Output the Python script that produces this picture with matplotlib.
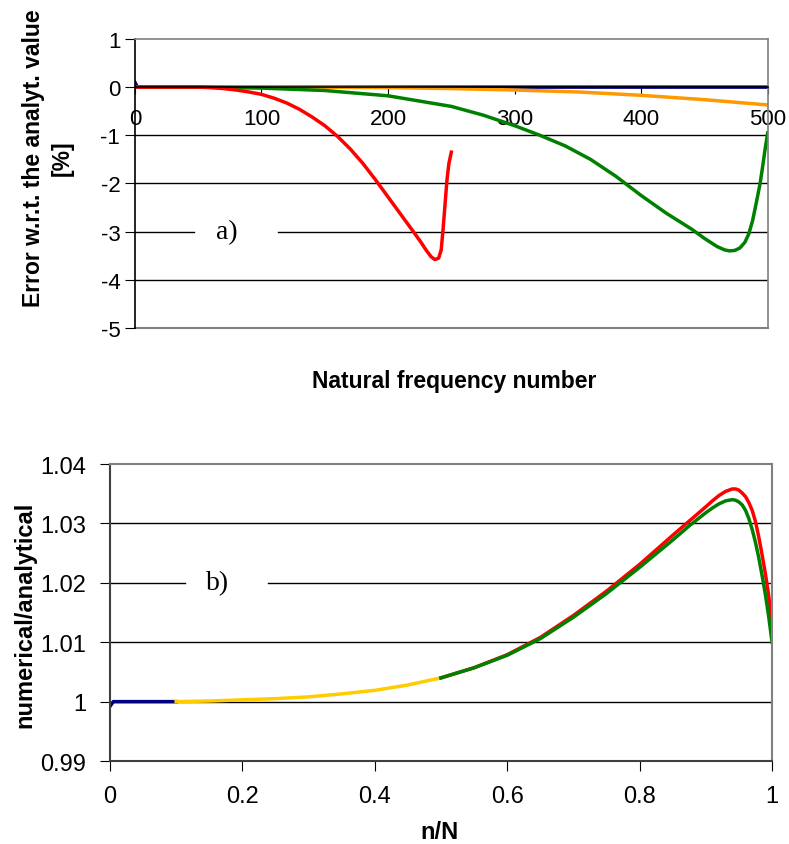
import matplotlib
matplotlib.use('Agg')
import matplotlib.pyplot as plt

plt.rcParams['font.family'] = ['Liberation Sans', 'DejaVu Sans']

# ---- panel a) : error vs natural frequency number ----
n_navy = [0, 2, 500]
err_navy = [0.1, 0.0, 0.0]

n_orange = [0, 100, 150, 200, 250, 300, 350, 400, 450, 500]
err_orange = [0.0, 0.0, -0.003, -0.01, -0.03, -0.06, -0.10, -0.17, -0.26, -0.37]

n_green = [0, 50, 100, 150, 200, 250, 275, 300, 320, 340, 360, 380, 400,
           420, 440, 450, 460, 466, 470, 474, 478, 482, 485, 488, 491, 494,
           496, 498, 500]
err_green = [0.0, 0.0, -0.02, -0.07, -0.18, -0.40, -0.58, -0.80, -1.00,
             -1.22, -1.50, -1.85, -2.25, -2.62, -2.95, -3.14, -3.31, -3.38,
             -3.40, -3.39, -3.34, -3.22, -3.05, -2.78, -2.40, -2.00, -1.65,
             -1.28, -0.95]

n_red = [0, 25, 50, 60, 70, 80, 90, 100, 110, 120, 130, 140, 150, 160, 170,
         180, 190, 200, 210, 220, 226, 230, 234, 237, 240, 242, 243.5, 245,
         246.5, 248, 250]
err_red = [0.0, 0.0, 0.0, -0.01, -0.03, -0.06, -0.10, -0.15, -0.23, -0.33,
           -0.46, -0.62, -0.80, -1.02, -1.28, -1.58, -1.92, -2.28, -2.64,
           -3.00, -3.22, -3.38, -3.52, -3.58, -3.55, -3.38, -2.95, -2.45,
           -1.95, -1.60, -1.35]

# ---- panel b) : numerical / analytical vs n/N ----
x_navy_b = [0, 0.005, 0.1]
r_navy_b = [0.9992, 1.0, 1.0]

x_yellow_b = [0.1, 0.15, 0.2, 0.25, 0.3, 0.35, 0.4, 0.45, 0.5]
r_yellow_b = [1.0, 1.0001, 1.0003, 1.0005, 1.0008, 1.0013, 1.0019, 1.0028,
              1.0040]

x_red_b = [0.5, 0.55, 0.6, 0.65, 0.7, 0.75, 0.8, 0.85, 0.875, 0.9, 0.91,
           0.92, 0.93, 0.94, 0.945, 0.95, 0.955, 0.96, 0.965, 0.97, 0.975,
           0.98, 0.985, 0.99, 0.995, 1.0]
r_red_b = [1.0040, 1.0057, 1.0079, 1.0108, 1.0145, 1.0186, 1.0231, 1.0280,
           1.0304, 1.0328, 1.0338, 1.0347, 1.0354, 1.0358, 1.0358, 1.0356,
           1.0351, 1.0345, 1.0335, 1.0322, 1.0303, 1.0277, 1.0247, 1.0215,
           1.0178, 1.0130]

x_green_b = [0.5, 0.55, 0.6, 0.65, 0.7, 0.75, 0.8, 0.85, 0.875, 0.9, 0.91,
             0.92, 0.93, 0.94, 0.945, 0.95, 0.955, 0.96, 0.965, 0.97, 0.975,
             0.98, 0.985, 0.99, 0.995, 1.0]
r_green_b = [1.0040, 1.0057, 1.0078, 1.0106, 1.0142, 1.0182, 1.0226, 1.0272,
             1.0296, 1.0318, 1.0326, 1.0333, 1.0338, 1.0340, 1.0339, 1.0336,
             1.0331, 1.0322, 1.0308, 1.0290, 1.0268, 1.0242, 1.0212, 1.0180,
             1.0143, 1.0100]

grey = '#808080'

fig = plt.figure(figsize=(7.89, 8.45), dpi=100)

# ---------------- top panel ----------------
ax1 = fig.add_axes([0.171, 0.6107, 0.802, 0.342])
ax1.plot(n_navy, err_navy, color='#000080', lw=2.5)
ax1.plot(n_orange, err_orange, color='#FF9900', lw=2.5)
ax1.plot(n_green, err_green, color='#008000', lw=2.5)
ax1.plot(n_red, err_red, color='#FF0000', lw=2.5)
ax1.set_xlim(0, 500)
ax1.set_ylim(-5, 1)
ax1.set_xticks([0, 100, 200, 300, 400, 500])
ax1.set_yticks([-5, -4, -3, -2, -1, 0, 1])
ax1.set_yticklabels(['-5', '-4', '-3', '-2', '-1', '0', '1'])
for y in [-4, -2, -1]:
    ax1.axhline(y, color='black', lw=1, zorder=0)
# gridline at -3 is broken by the panel label
ax1.axhline(-3, xmax=47 / 500, color='black', lw=1, zorder=0)
ax1.axhline(-3, xmin=113 / 500, color='black', lw=1, zorder=0)
ax1.spines['bottom'].set_position(('data', 0))
ax1.spines['bottom'].set_color('black')
ax1.spines['left'].set_color('black')
ax1.spines['top'].set_color(grey)
ax1.spines['right'].set_color(grey)
for s in ax1.spines.values():
    s.set_linewidth(1.2)
ax1.plot([0, 500], [-5, -5], color=grey, lw=1.5, clip_on=False, zorder=0)
ax1.tick_params(axis='x', direction='out', length=5, labelsize=16, pad=10)
ax1.tick_params(axis='y', direction='out', length=7, labelsize=16)
ax1.text(73, -3, 'a)', family='Liberation Serif', fontsize=20, ha='center',
         va='center')
fig.text(0.043, 1 - 158 / 845, 'Error w.r.t. the analyt. value',
         rotation=90, ha='center', va='center', fontsize=16.5, fontweight='bold')
fig.text(0.079, 1 - 158 / 845, '[%]', rotation=90, ha='center', va='center',
         fontsize=16.5, fontweight='bold')
fig.text(454 / 789, 1 - 382 / 845, 'Natural frequency number', ha='center',
         va='center', fontsize=16.5, fontweight='bold')

# ---------------- bottom panel ----------------
ax2 = fig.add_axes([0.1394, 0.0982, 0.8391, 0.3515])
ax2.plot(x_navy_b, r_navy_b, color='#000080', lw=2.5)
ax2.plot(x_yellow_b, r_yellow_b, color='#FFCC00', lw=2.5)
ax2.plot(x_red_b, r_red_b, color='#FF0000', lw=2.5)
ax2.plot(x_green_b, r_green_b, color='#008000', lw=2.5)
ax2.set_xlim(0, 1)
ax2.set_ylim(0.99, 1.04)
ax2.set_xticks([0, 0.2, 0.4, 0.6, 0.8, 1])
ax2.set_xticklabels(['0', '0.2', '0.4', '0.6', '0.8', '1'])
ax2.set_yticks([0.99, 1.0, 1.01, 1.02, 1.03, 1.04])
ax2.set_yticklabels(['0.99', '1', '1.01', '1.02', '1.03', '1.04'])
for y in [1.0, 1.01, 1.03]:
    ax2.axhline(y, color='black', lw=1, zorder=0)
ax2.axhline(1.02, xmax=(185 - 110) / 662, color='black', lw=1, zorder=0)
ax2.axhline(1.02, xmin=(268 - 110) / 662, color='black', lw=1, zorder=0)
ax2.spines['bottom'].set_color('#404040')
ax2.spines['left'].set_color('#404040')
ax2.spines['top'].set_color(grey)
ax2.spines['right'].set_color(grey)
for s in ax2.spines.values():
    s.set_linewidth(1.5)
ax2.tick_params(axis='both', direction='out', length=7, labelsize=17, pad=10)
ax2.text(0.163, 1.02, 'b)', family='Liberation Serif', fontsize=20, ha='center',
         va='center')
fig.text(25 / 789, 1 - 615 / 845, 'numerical/analytical', rotation=90,
         ha='center', va='center', fontsize=17, fontweight='bold')
fig.text(440 / 789, 1 - 833 / 845, 'n/N', ha='center', va='center',
         fontsize=17, fontweight='bold')

fig.savefig('out.png', dpi=100)
